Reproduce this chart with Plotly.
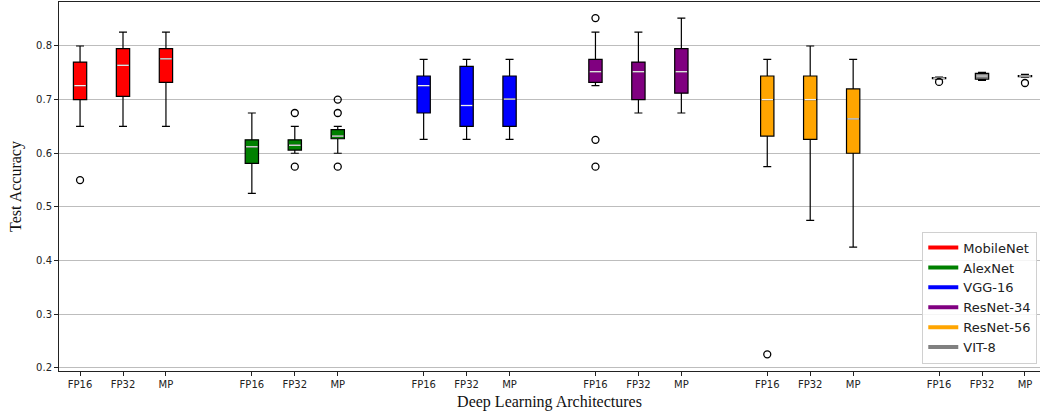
import plotly.graph_objects as go

architectures = ["MobileNet", "AlexNet", "VGG-16", "ResNet-34", "ResNet-56", "VIT-8"]
colors = ["#ff0000", "#008000", "#0000ff", "#800080", "#ffa500", "#808080"]
precisions = ["FP16", "FP32", "MP"]

# per architecture: [FP16, FP32, MP]
lowerfence = [
    [0.650, 0.650, 0.650],
    [0.525, 0.600, 0.600],
    [0.626, 0.626, 0.626],
    [0.726, 0.675, 0.675],
    [0.575, 0.475, 0.425],
    [0.738, 0.736, 0.742],
]
q1 = [
    [0.700, 0.706, 0.732],
    [0.581, 0.606, 0.627],
    [0.675, 0.650, 0.650],
    [0.732, 0.700, 0.712],
    [0.632, 0.626, 0.600],
    [0.739, 0.738, 0.743],
]
median = [
    [0.726, 0.764, 0.776],
    [0.612, 0.615, 0.632],
    [0.726, 0.689, 0.701],
    [0.752, 0.752, 0.752],
    [0.700, 0.700, 0.664],
    [0.740, 0.744, 0.744],
]
q3 = [
    [0.770, 0.795, 0.795],
    [0.625, 0.625, 0.644],
    [0.744, 0.762, 0.744],
    [0.775, 0.770, 0.795],
    [0.744, 0.744, 0.720],
    [0.741, 0.749, 0.745],
]
upperfence = [
    [0.800, 0.826, 0.826],
    [0.675, 0.650, 0.650],
    [0.775, 0.775, 0.775],
    [0.826, 0.826, 0.852],
    [0.775, 0.800, 0.775],
    [0.742, 0.751, 0.747],
]
outliers = [
    [[0.550], [], []],
    [[], [0.675, 0.575], [0.700, 0.675, 0.575]],
    [[], [], []],
    [[0.852, 0.625, 0.575], [], []],
    [[0.225], [], []],
    [[0.733], [], [0.731]],
]

box_width = 0.31
fig = go.Figure()

tickvals, ticktext = [], []
for i, arch in enumerate(architectures):
    pos = [4 * i + j for j in range(3)]
    tickvals += pos
    ticktext += precisions
    fig.add_trace(go.Box(
        x=pos, q1=q1[i], median=median[i], q3=q3[i],
        lowerfence=lowerfence[i], upperfence=upperfence[i],
        width=box_width, whiskerwidth=0.6,
        fillcolor=colors[i], line=dict(color="black", width=1.2),
        boxpoints=False, showlegend=False, hoverinfo="skip",
    ))
    # median lines (white)
    mx, my = [], []
    for p, m in zip(pos, median[i]):
        mx += [p - box_width / 2 + 0.02, p + box_width / 2 - 0.02, None]
        my += [m, m, None]
    fig.add_trace(go.Scatter(x=mx, y=my, mode="lines",
                             line=dict(color="#f0f0f0", width=1.3),
                             showlegend=False, hoverinfo="skip"))
    # outliers
    ox, oy = [], []
    for p, outs in zip(pos, outliers[i]):
        for o in outs:
            ox.append(p)
            oy.append(o)
    if ox:
        fig.add_trace(go.Scatter(x=ox, y=oy, mode="markers",
                                 marker=dict(symbol="circle-open", size=7,
                                             color="black", line=dict(width=1.3)),
                                 showlegend=False, hoverinfo="skip"))

for arch, c in zip(architectures, colors):
    fig.add_trace(go.Scatter(x=[None], y=[None], mode="lines",
                             line=dict(color=c, width=4), name=arch))

fig.update_layout(
    width=1040, height=418,
    margin=dict(l=59, r=0, t=2, b=47, autoexpand=False),
    plot_bgcolor="white", paper_bgcolor="white",
    boxmode="overlay",
    font=dict(family="DejaVu Sans", size=10, color="#222"),
    legend=dict(x=0.880, xanchor="left", y=0.02, yanchor="bottom",
                bgcolor="rgba(255,255,255,0.85)", bordercolor="#d0d0d0",
                borderwidth=1, font=dict(size=13, color="#222"),
                tracegroupgap=0, itemwidth=30),
)
fig.update_xaxes(
    range=[-0.49, 22.35], tickvals=tickvals, ticktext=ticktext,
    showgrid=False, zeroline=False, automargin=False,
    showline=True, linecolor="#222", linewidth=1, mirror=True,
    ticks="outside", ticklen=4, tickcolor="#222",
    title=dict(text="Deep Learning Architectures",
               font=dict(family="Liberation Serif", size=16, color="#111"),
               standoff=6),
)
fig.update_yaxes(
    range=[0.194, 0.882], tickvals=[0.2, 0.3, 0.4, 0.5, 0.6, 0.7, 0.8],
    ticktext=["0.2", "0.3", "0.4", "0.5", "0.6", "0.7", "0.8"],
    showgrid=True, gridcolor="#bdbdbd", gridwidth=1, zeroline=False,
    automargin=False,
    showline=True, linecolor="#222", linewidth=1,
    ticks="outside", ticklen=4, tickcolor="#222",
    title=dict(text="Test Accuracy",
               font=dict(family="Liberation Serif", size=16, color="#111"),
               standoff=10),
)

fig.write_html("out.html", config={"displayModeBar": False})

# remove the default page margin so the figure fills the window exactly
with open("out.html", "r", encoding="utf-8") as f:
    html = f.read()
html = html.replace("<head>", "<head><style>html,body{margin:0;padding:0;overflow:hidden;}</style>", 1)
with open("out.html", "w", encoding="utf-8") as f:
    f.write(html)
